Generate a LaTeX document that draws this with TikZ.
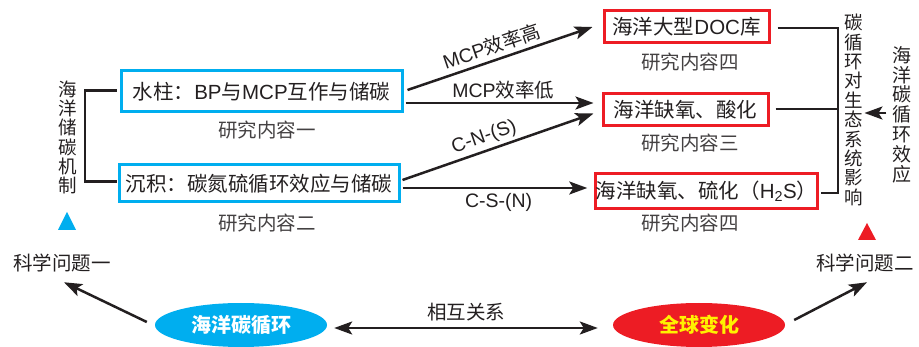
\documentclass[tikz,border=0pt]{standalone}
\usepackage{fontspec}
\setmainfont{Noto Sans CJK SC}
\newfontfamily\latf{Liberation Sans}
\newcommand{\LT}[1]{{\latf #1}}
\usetikzlibrary{arrows.meta,calc,shapes.geometric}
\definecolor{txt}{HTML}{231F20}
\definecolor{myblue}{HTML}{00AEEF}
\definecolor{myred}{HTML}{ED1C24}
\definecolor{myyellow}{HTML}{FFF200}
\tikzset{
  bluebox/.style={draw=myblue,line width=3pt,inner sep=0pt,text=txt,font=\fontsize{20.5}{22}\selectfont},
  redbox/.style={draw=myred,line width=3pt,inner sep=0pt,text=txt,font=\fontsize{20.5}{22}\selectfont},
  lbl/.style={text=txt!85,inner sep=0pt,font=\fontsize{19.5}{22}\selectfont},
  albl/.style={text=txt,inner sep=1pt,font=\fontsize{19.5}{21}\selectfont},
  vtext/.style={text=txt,inner sep=0pt,align=center},
  conn/.style={draw=txt,line width=2.5pt},
  arr/.style={conn,-{Stealth[length=18pt,width=13pt,inset=4pt]}},
  darr/.style={conn,{Stealth[length=18pt,width=13pt,inset=4pt]}-{Stealth[length=18pt,width=13pt,inset=4pt]}},
  ell/.style={ellipse,inner sep=0pt,minimum width=172pt,minimum height=44pt,font=\fontsize{20}{22}\selectfont\bfseries},
}
\begin{document}
\begin{tikzpicture}[x=1pt,y=-1pt]
\useasboundingbox (0,0) rectangle (919,347);
% left boxes
\node[bluebox,minimum width=281pt,minimum height=41pt] (b1) at (261.5,91.5) {水柱：\LT{BP}与\LT{MCP}互作与储碳};
\node[bluebox,minimum width=280pt,minimum height=37pt] (b2) at (259,183.5) {沉积：碳氮硫循环效应与储碳};
\node[lbl] (l1) at (267,130) {研究内容一};
\node[lbl] (l2) at (267,223) {研究内容二};
% right boxes
\node[redbox,minimum width=165pt,minimum height=32pt] (r1) at (686.5,27) {海洋大型\LT{DOC}库};
\node[redbox,minimum width=165pt,minimum height=32pt] (r2) at (685.5,110) {海洋缺氧、酸化};
\node[redbox,minimum width=221pt,minimum height=35pt] (r3) at (706.5,191.5) {海洋缺氧、硫化（\LT{H\textsubscript{2}S}）};
\node[lbl] (l4a) at (690,62) {研究内容四};
\node[lbl] (l3) at (690,143) {研究内容三};
\node[lbl] (l4b) at (690,223) {研究内容四};
% vertical texts
\node[vtext,font=\fontsize{18.5}{19.2}\selectfont] (mech) at (68,137.5) {海\\洋\\储\\碳\\机\\制};
\node[vtext,font=\fontsize{18.5}{19.4}\selectfont] (imp) at (854,110) {碳\\循\\环\\对\\生\\态\\系\\统\\影\\响};
\node[vtext,font=\fontsize{19}{19.8}\selectfont] (eff) at (902,114.5) {海\\洋\\碳\\循\\环\\效\\应};
% brackets
\coordinate (lbx) at (85,0);
\draw[conn] ($(b1.west)+(-3,-1)$) -- (lbx |- {$(b1.west)+(0,-1)$}) -- (lbx |- {$(b2.west)+(0,-2)$}) -- ($(b2.west)+(-1,-2)$);
\coordinate (rbx) at (838,0);
\draw[conn] ($(r1.east)+(7,1)$) -- (rbx |- {$(r1.east)+(0,1)$}) -- (rbx |- {$(r3.east)+(0,1.5)$}) -- ($(r3.east)+(2,1.5)$);
\draw[conn] ($(r2.east)+(6,-1)$) -- (rbx |- {$(r2.east)+(0,-1)$});
% arrows middle
\draw[arr] ($(b1.east)+(4,-1.5)$) -- node[albl,pos=0.48,above=3pt,sloped] {\LT{MCP}效率高} ($(r1.west)+(-10,0)$);
\draw[arr] ($(b1.east)+(2,11.5)$) -- node[albl,pos=0.52,above=2pt] {\LT{MCP}效率低} ($(r2.west)+(-8,-7)$);
\draw[arr] ($(b2.east)+(2,-3.5)$) -- node[albl,pos=0.45,above=2pt,sloped] {\LT{C-N-(S)}} ($(r2.west)+(-8,3.5)$);
\draw[arr] ($(b2.east)+(2,4.5)$) -- node[albl,pos=0.52,below=3pt] {\LT{C-S-(N)}} ($(r3.west)+(-7,-3.5)$);
\draw[arr] ($(eff.west)+(-6,-1.5)$) -- ($(imp.east)+(1,3)$);
% triangles
\fill[myblue] (58,230) -- (67,212) -- (76,230) -- cycle;
\fill[myred] (858,240) -- (867,223) -- (876,240) -- cycle;
% scientific questions
\node[lbl,text=txt] (q1) at (62,263) {科学问题一};
\node[lbl,text=txt] (q2) at (865,263) {科学问题二};
% ellipses
\node[ell,fill=myblue,text=white] (oc) at (241,325) {海洋碳循环};
\node[ell,fill=myred,text=myyellow] (gc) at (699,325) {全球变化};
\draw[darr] ($(oc.east)+(7,3)$) -- node[albl,above=5pt] {相互关系} ($(gc.west)+(-15,3)$);
\draw[arr] ($(oc.west)+(-8,-3)$) -- ($(q1.south)+(2,10)$);
\draw[arr] ($(gc.east)+(9,-5)$) -- ($(q2.south)+(2,10)$);
\end{tikzpicture}
\end{document}
